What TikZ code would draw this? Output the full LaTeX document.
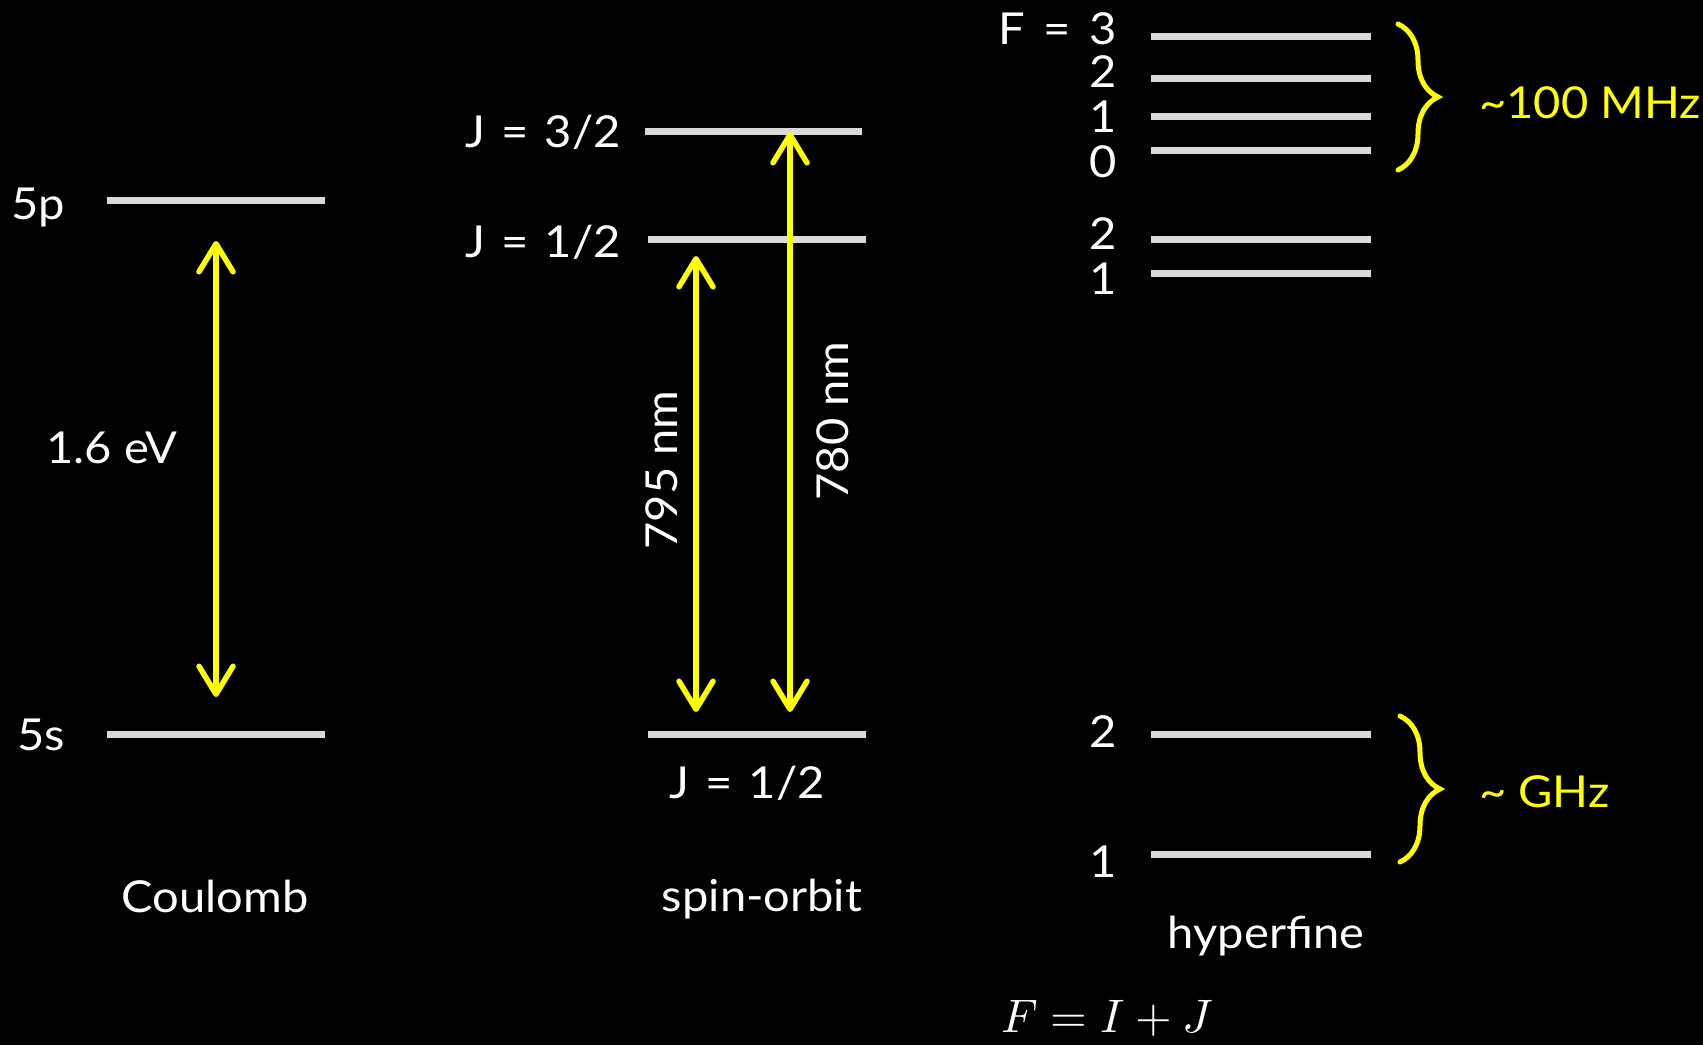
\documentclass[tikz,border=0pt]{standalone}
\usepackage{unicode-math}
\setmainfont{Lato}[FakeStretch=1.07]
\setmathfont{Latin Modern Math}
\usetikzlibrary{arrows.meta,decorations.pathreplacing}
\definecolor{lvlgray}{HTML}{D9D9D9}
\definecolor{ylw}{HTML}{FFFF00}
\newcommand{\eqsp}{\hspace{0.37em}=\hspace{0.37em}}
\begin{document}
\begin{tikzpicture}[x=1pt,y=-1pt,
  lvl/.style={draw=lvlgray, line width=7pt},
  lbl/.style={text=white, font=\fontsize{44}{50}\selectfont, inner sep=0pt},
  ylbl/.style={text=ylw, font=\fontsize{44}{50}\selectfont, inner sep=0pt},
  trans/.style={draw=ylw, line width=5.5pt,
    {Straight Barb[length=28pt,width=34pt,round]}-{Straight Barb[length=28pt,width=34pt,round]}},
  brc/.style={draw=ylw, line width=5pt, line cap=round, decorate, decoration={brace, amplitude=40pt}}
]
\fill[black] (0,0) rectangle (1703,1045);
\useasboundingbox (0,0) rectangle (1703,1045);

% ---------- Coulomb ----------
\draw[lvl] (107,200) coordinate (p5L) -- (325,200) coordinate (p5R);
\draw[lvl] (107,734) coordinate (s5L) -- (325,734) coordinate (s5R);
\node[lbl, anchor=base east] (l5p) at (65,219) {5p};
\node[lbl, anchor=base east] (l5s) at (65,750) {5s};
\coordinate (cA) at (216,241);
\coordinate (cB) at (216,697);
\draw[trans] (cA) -- (cB);
\node[lbl, anchor=base] (lev) at (112,463) {1.6 eV};
\node[lbl, anchor=base] (lcoul) at (215,912) {Coulomb};

% ---------- spin-orbit ----------
\draw[lvl] (645,131) -- (862,131);
\draw[lvl] (648,239) -- (866,239);
\draw[lvl] (648,734) -- (866,734);
\node[lbl, anchor=base east] (lj32) at (621,147) {J\eqsp3/2};
\node[lbl, anchor=base east] (lj12) at (621,257) {J\eqsp1/2};
\node[lbl, anchor=base] (lj12g) at (747,798) {J\eqsp1/2};
\coordinate (dA) at (696,256);
\coordinate (dB) at (696,712);
\coordinate (eA) at (790,132);
\coordinate (eB) at (790,712);
\draw[trans] (dA) -- (dB);
\draw[trans] (eA) -- (eB);
\node[lbl, anchor=base, rotate=90] (l795) at (677,470) {795 nm};
\node[lbl, anchor=base, rotate=90] (l780) at (848,421) {780 nm};
\node[lbl, anchor=base] (lso) at (762,911) {spin-orbit};

% ---------- hyperfine ----------
\foreach \yy in {36,78,116,150,239,273,734,854}
  \draw[lvl] (1151,\yy) -- (1371,\yy);
\node[lbl, anchor=base east] (f3) at (1117,44) {F\hspace{0.42em}=\hspace{0.42em}3};
\node[lbl, anchor=base east] (f2) at (1117,87) {2};
\node[lbl, anchor=base east] (f1) at (1117,132) {1};
\node[lbl, anchor=base east] (f0) at (1117,177) {0};
\node[lbl, anchor=base east] (g2) at (1117,249) {2};
\node[lbl, anchor=base east] (g1) at (1117,294) {1};
\node[lbl, anchor=base east] (h2) at (1117,747) {2};
\node[lbl, anchor=base east] (h1) at (1117,877) {1};
\draw[brc] (1398,24) -- (1398,170);
\draw[brc] (1400,716) -- (1400,862);
\node[ylbl, anchor=base west] (mhz) at (1479,118) {\textasciitilde100 MHz};
\node[ylbl, anchor=base west] (ghz) at (1479,807) {\textasciitilde{} GHz};
\node[lbl, anchor=base] (lhf) at (1266,948) {hyperfine};
\node[text=white, inner sep=0pt, anchor=base west, font=\fontsize{47}{52}\selectfont] (feq) at (1001,1032) {$F \mathrel{=} I + J$};
\end{tikzpicture}
\end{document}
